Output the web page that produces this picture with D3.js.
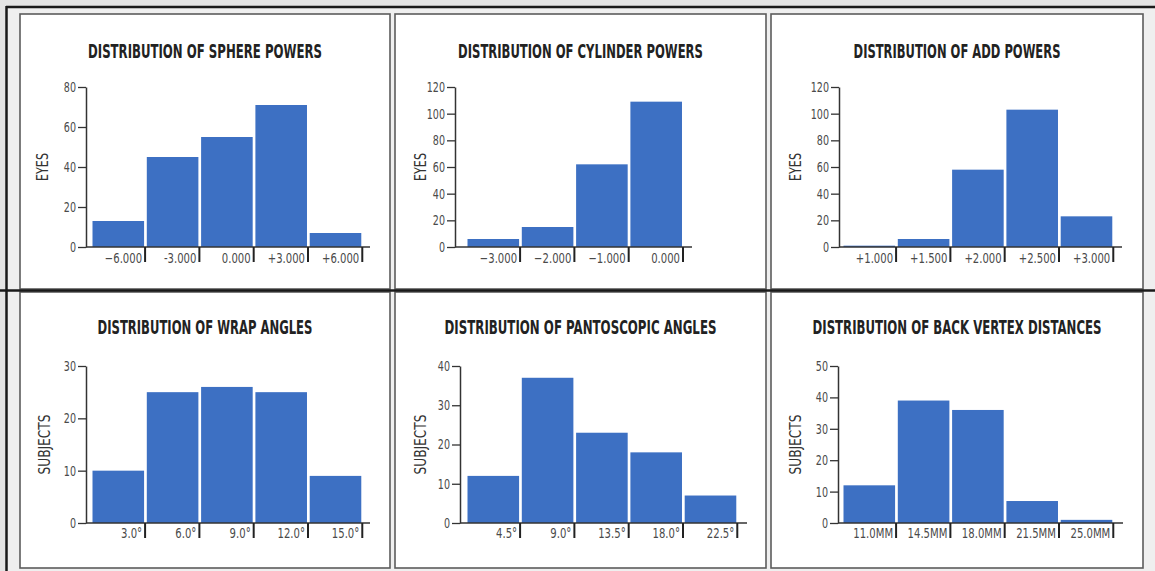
<!DOCTYPE html>
<html><head><meta charset="utf-8">
<script src="https://cdn.jsdelivr.net/npm/d3@7"></script>
<style>
html,body{margin:0;padding:0;background:#e4e4e4;}
svg{display:block;}
text{font-family:"Liberation Sans Narrow","DejaVu Sans Condensed","DejaVu Sans",sans-serif;font-stretch:condensed;}
</style></head><body>
<svg id="chart" width="1155" height="571"></svg>
<script>
// ---------- data ----------
const sphereCategories = ["\u22126.000", "-3.000", "0.000", "+3.000", "+6.000"];
const sphereValues = [13, 45, 55, 71, 7];
const sphereTicks = [0, 20, 40, 60, 80];

const cylinderCategories = ["\u22123.000", "\u22122.000", "\u22121.000", "0.000"];
const cylinderValues = [6, 15, 62, 109];
const cylinderTicks = [0, 20, 40, 60, 80, 100, 120];

const addCategories = ["+1.000", "+1.500", "+2.000", "+2.500", "+3.000"];
const addValues = [1, 6, 58, 103, 23];
const addTicks = [0, 20, 40, 60, 80, 100, 120];

const wrapCategories = ["3.0\u00b0", "6.0\u00b0", "9.0\u00b0", "12.0\u00b0", "15.0\u00b0"];
const wrapValues = [10, 25, 26, 25, 9];
const wrapTicks = [0, 10, 20, 30];

const pantoCategories = ["4.5\u00b0", "9.0\u00b0", "13.5\u00b0", "18.0\u00b0", "22.5\u00b0"];
const pantoValues = [12, 37, 23, 18, 7];
const pantoTicks = [0, 10, 20, 30, 40];

const vertexCategories = ["11.0MM", "14.5MM", "18.0MM", "21.5MM", "25.0MM"];
const vertexValues = [12, 39, 36, 7, 1];
const vertexTicks = [0, 10, 20, 30, 40, 50];

const titles = ["DISTRIBUTION OF SPHERE POWERS", "DISTRIBUTION OF CYLINDER POWERS", "DISTRIBUTION OF ADD POWERS",
                "DISTRIBUTION OF WRAP ANGLES", "DISTRIBUTION OF PANTOSCOPIC ANGLES", "DISTRIBUTION OF BACK VERTEX DISTANCES"];
const yLabels = ["EYES", "EYES", "EYES", "SUBJECTS", "SUBJECTS", "SUBJECTS"];

// ---------- layout ----------
const W = 1155, H = 571;
const colX = [20, 395, 771];
const colW = [370, 371, 372];
const rows = [
  {top: 14, bottom: 289, titleY: 58, yTop: 87, yBase: 247, labelY: 263},
  {top: 292, bottom: 568, titleY: 334, yTop: 366, yBase: 523, labelY: 538}
];
const barStart = 72.5, barStep = 54.3, barPad = 0.05;
const panelLayout = [
  {axisX: 66, axisEnd: 350, yLabelX: 23, titleW: 234},
  {axisX: 60, axisEnd: 297, yLabelX: 26, titleW: 245},
  {axisX: 68, axisEnd: 351, yLabelX: 25, titleW: 207},
  {axisX: 66, axisEnd: 350, yLabelX: 25, titleW: 215},
  {axisX: 65, axisEnd: 352, yLabelX: 26, titleW: 272},
  {axisX: 67, axisEnd: 352, yLabelX: 25, titleW: 289}
];
const yLabelW = {"EYES": 28, "SUBJECTS": 60};
const barColor = "#3d70c3";

const panels = [
  {cats: sphereCategories, values: sphereValues, ticks: sphereTicks},
  {cats: cylinderCategories, values: cylinderValues, ticks: cylinderTicks},
  {cats: addCategories, values: addValues, ticks: addTicks},
  {cats: wrapCategories, values: wrapValues, ticks: wrapTicks},
  {cats: pantoCategories, values: pantoValues, ticks: pantoTicks},
  {cats: vertexCategories, values: vertexValues, ticks: vertexTicks}
];

function condense(sel, f) {
  sel.each(function () {
    const l = this.getComputedTextLength();
    d3.select(this).attr("textLength", l * f).attr("lengthAdjust", "spacingAndGlyphs");
  });
}

const svg = d3.select("#chart");
svg.append("rect").attr("width", W).attr("height", H).attr("fill", "#e4e4e4");
svg.append("rect").attr("x", 7).attr("y", 7).attr("width", W - 7).attr("height", H - 7).attr("fill", "#efefef");

panels.forEach((p, i) => {
  const col = i % 3, row = rows[Math.floor(i / 3)], L = panelLayout[i];
  const g = svg.append("g").attr("transform", `translate(${colX[col]},${row.top})`);
  const pw = colW[col], ph = row.bottom - row.top;
  g.append("rect").attr("x", 0).attr("y", 0).attr("width", pw).attr("height", ph)
    .attr("fill", "#ffffff").attr("stroke", "#5c5c5c").attr("stroke-width", 1.6);

  const yBase = row.yBase - row.top, yTop = row.yTop - row.top;
  const n = p.cats.length;
  const x = d3.scaleBand().domain(p.cats)
    .range([barStart, barStart + barStep * (n - barPad)]).paddingInner(barPad).paddingOuter(0);
  const y = d3.scaleLinear().domain([0, d3.max(p.ticks)]).range([yBase, yTop]);

  // title (horizontally condensed with a scale transform)
  const tg = g.append("g");
  const tt = tg.append("text").attr("x", 0).attr("y", 0)
    .attr("text-anchor", "middle").attr("font-size", 19).attr("font-weight", "bold")
    .attr("fill", "#222").text(titles[i]);
  const natural = tt.node().getComputedTextLength();
  tg.attr("transform", `translate(${pw / 2},${row.titleY - row.top}) scale(${L.titleW / natural},1)`);

  // bars
  g.selectAll("rect.bar").data(p.values).join("rect").attr("class", "bar")
    .attr("x", (d, k) => x(p.cats[k])).attr("width", x.bandwidth())
    .attr("y", d => y(d)).attr("height", d => yBase - y(d))
    .attr("fill", barColor);

  // y axis
  const ya = g.append("g").attr("transform", `translate(${L.axisX},0)`)
    .call(d3.axisLeft(y).tickValues(p.ticks).tickSize(8).tickSizeOuter(0).tickPadding(2));
  ya.select(".domain").attr("stroke", "#333").attr("stroke-width", 1.5);
  ya.selectAll(".tick line").attr("stroke", "#333").attr("stroke-width", 1.3);
  ya.selectAll(".tick text").attr("font-size", 14).attr("fill", "#4a4a4a").style("font-family", null);
  condense(ya.selectAll(".tick text"), 0.76);

  // x axis baseline
  g.append("line").attr("x1", L.axisX).attr("x2", L.axisEnd).attr("y1", yBase).attr("y2", yBase)
    .attr("stroke", "#333").attr("stroke-width", 1.5);

  // x ticks at bin upper edges
  const edge = x.bandwidth() + 0.5;
  const xt = d3.scalePoint().domain(p.cats)
    .range([x(p.cats[0]) + edge, x(p.cats[n - 1]) + edge]);
  const xa = g.append("g").attr("transform", `translate(0,${yBase})`)
    .call(d3.axisBottom(xt).tickSize(15).tickSizeOuter(0));
  xa.select(".domain").remove();
  xa.selectAll(".tick line").attr("stroke", "#222").attr("stroke-width", 2);
  xa.selectAll(".tick text").attr("text-anchor", "end").attr("x", -3)
    .attr("y", row.labelY - row.yBase).attr("dy", 0)
    .attr("font-size", 14).attr("fill", "#4a4a4a").style("font-family", null);
  condense(xa.selectAll(".tick text"), 0.8);

  // y label
  const yl = g.append("text").attr("transform", `translate(${L.yLabelX},${(yTop + yBase) / 2}) rotate(-90)`)
    .attr("text-anchor", "middle").attr("dy", "0.36em").attr("font-size", 15)
    .attr("fill", "#333").text(yLabels[i]);
  yl.attr("textLength", yLabelW[yLabels[i]]).attr("lengthAdjust", "spacingAndGlyphs");
});

// dark frame lines
svg.append("line").attr("x1", 6).attr("x2", W).attr("y1", 7).attr("y2", 7).attr("stroke", "#1a1a1a").attr("stroke-width", 2.5);
svg.append("line").attr("x1", 6.5).attr("x2", 6.5).attr("y1", 6).attr("y2", H).attr("stroke", "#1a1a1a").attr("stroke-width", 2.5);
svg.append("line").attr("x1", 0).attr("x2", W).attr("y1", 290.5).attr("y2", 290.5).attr("stroke", "#1a1a1a").attr("stroke-width", 2.5);
</script>
</body></html>
